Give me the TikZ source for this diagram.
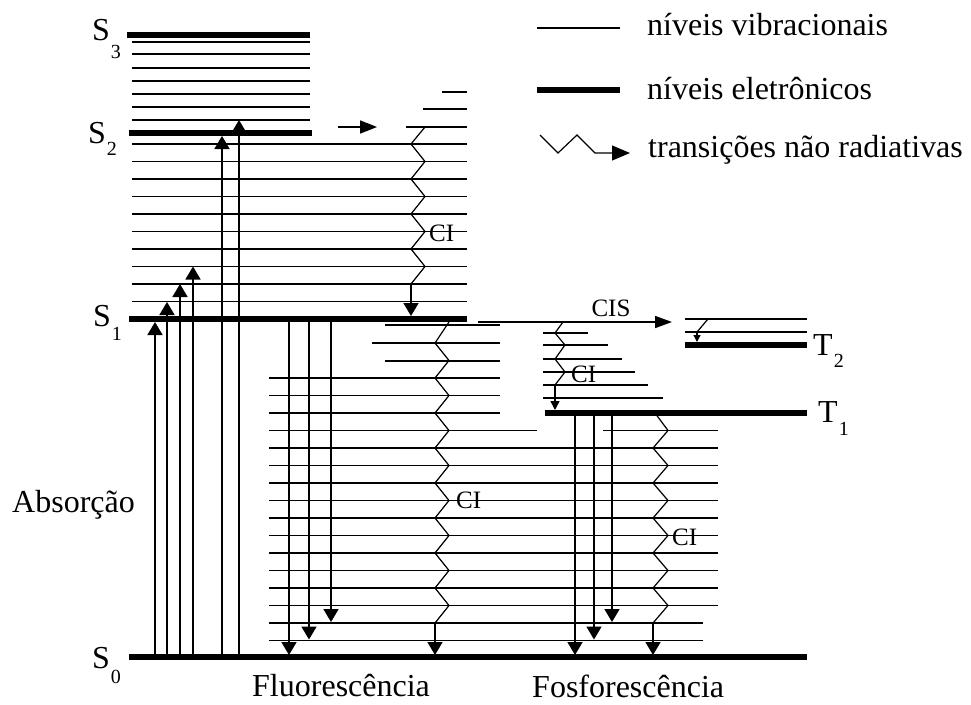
\documentclass[tikz,border=0pt]{standalone}
\usepackage{fontspec}
\setmainfont{Liberation Serif}
\usetikzlibrary{arrows.meta}
\newcommand{\lvl}[3]{#1\kern1pt\raisebox{-#3pt}{\fontsize{20}{20}\selectfont #2}}
\begin{document}
\begin{tikzpicture}[x=1pt,y=-1pt,
  vib/.style={line width=1.8pt},
  ele/.style={line width=6.5pt},
  arr/.style={line width=1.7pt,-{Triangle[width=15pt,length=13pt]}},
  sarr/.style={line width=1.4pt,-{Triangle[width=9pt,length=9pt]}},
  tarr/.style={line width=1.2pt,-{Triangle[width=7pt,length=7pt]}},
  zz/.style={line width=1.2pt,line join=miter},
  lab/.style={font=\fontsize{32}{36}\selectfont, inner sep=0pt},
  cil/.style={font=\fontsize{25}{28}\selectfont, inner sep=0pt},
]
\useasboundingbox (0,0) rectangle (971,704);

% ---------- S3 / S2 manifold ----------
\draw[ele] (127,35) -- (310,35);
\foreach \y in {42,54,68,81,94,107,120} \draw[vib] (132,\y) -- (310,\y);
\draw[ele] (129,133) -- (312,133);
\foreach \k in {0,...,9} \draw[vib] (132,144+\k*17.5) -- (467,144+\k*17.5);
\draw[vib] (442,92) -- (467,92);
\draw[vib] (423,109) -- (467,109);
\draw[vib] (406,127) -- (467,127);
% S1
\draw[ele] (129,319) -- (467,319);

% ---------- S0 manifold ----------
\draw[vib] (385,325) -- (500,325);
\draw[vib] (372,343) -- (500,343);
\draw[vib] (385,361) -- (500,361);
\foreach \k in {0,1,2} \draw[vib] (269,378+\k*17.5) -- (500,378+\k*17.5);
\draw[vib] (269,430.5) -- (537,430.5);
\foreach \k in {4,...,13} \draw[vib] (269,378+\k*17.5) -- (718,378+\k*17.5);
\foreach \k in {14,15} \draw[vib] (269,378+\k*17.5) -- (703,378+\k*17.5);
\draw[ele] (129,657) -- (807,657);

% ---------- triplets ----------
\draw[vib] (543,333) -- (588,333);
\draw[vib] (543,345) -- (608,345);
\draw[vib] (543,359) -- (622,359);
\draw[vib] (543,372) -- (635,372);
\draw[vib] (543,385) -- (648,385);
\draw[vib] (543,398) -- (663,398);
\draw[ele] (545,413) -- (807,413);
\draw[vib] (603,430.5) -- (718,430.5);
\draw[vib] (685,319) -- (807,319);
\draw[vib] (685,332) -- (807,332);
\draw[ele] (685,345) -- (807,345);

% ---------- absorption ----------
\draw[arr] (155,654) -- (155,322);
\draw[arr] (167,654) -- (167,302);
\draw[arr] (180,654) -- (180,284);
\draw[arr] (193,654) -- (193,266.5);
\draw[arr] (222,654) -- (222,136);
\draw[arr] (239,654) -- (239,120);

% ---------- fluorescence ----------
\draw[arr] (289,322) -- (289,655);
\draw[arr] (309,322) -- (309,639.5);
\draw[arr] (331,322) -- (331,622);

% ---------- phosphorescence ----------
\draw[arr] (575,416) -- (575,655);
\draw[arr] (594,416) -- (594,639.5);
\draw[arr] (612,416) -- (612,622);

% ---------- internal conversions ----------
\draw[zz] (425,127) \foreach \k in {1,...,9} { -- ({ifthenelse(mod(\k,2)==1,411,425)},127+\k*17.5-0.5) };
\draw[arr] (411,284) -- (411,316);
\node[cil,anchor=west] (ci1) at (429,233) {CI};

\draw[zz] (449,322) \foreach \k in {0,...,16} { -- ({ifthenelse(mod(\k,2)==0,435,449)},343+\k*17.5) };
\draw[arr] (435,623) -- (435,655);
\node[cil,anchor=west] (ci2) at (456,500) {CI};

\draw[zz] (655,413) \foreach \k in {0,...,11} { -- ({ifthenelse(mod(\k,2)==0,668,653)},430.5+\k*17.5) };
\draw[arr] (653,623) -- (653,655);
\node[cil,anchor=west] (ci3) at (672,537) {CI};

\draw[zz] (563,322) -- (555,333) -- (565,345) -- (555,359) -- (565,372) -- (555,385);
\draw[sarr] (555,385) -- (555,410);
\node[cil,anchor=west] (ci4) at (571,374) {CI};

\draw[zz] (708,319) -- (697,332);
\draw[tarr] (697,332) -- (697,342);

% ---------- CIS and S2 arrow ----------
\draw[line width=1.7pt,-{Triangle[width=12pt,length=17pt]}] (478,322) -- (672,322);
\node[cil] (cis) at (611,308) {CIS};
\draw[line width=1.7pt,-{Triangle[width=13pt,length=17pt]}] (338,127) -- (377,127);

% ---------- labels ----------
\node[lab,anchor=base west] (s3) at (92,40) {\lvl{S}{3}{18}};
\node[lab,anchor=base west] (s2) at (88,143) {\lvl{S}{2}{12}};
\node[lab,anchor=base west] (s1) at (93,326) {\lvl{S}{1}{14}};
\node[lab,anchor=base west] (s0) at (92,668) {\lvl{S}{0}{15}};
\node[lab,anchor=base west] (t2) at (813,355) {\lvl{T}{2}{12}};
\node[lab,anchor=base west] (t1) at (818,422) {\lvl{T}{1}{13}};
\node[lab,anchor=base west] (abs) at (12,512) {Absorção};
\node[lab,anchor=base west] (flu) at (252,696) {Fluorescência};
\node[lab,anchor=base west] (fos) at (532,697) {Fosforescência};

% ---------- legend ----------
\draw[vib] (537,28) -- (620,28);
\draw[ele] (537,90) -- (620,90);
\draw[zz,-{Triangle[width=15pt,length=18pt]}] (540,135) -- (558,153) -- (577,135) -- (595,153) -- (630,153);
\node[lab,anchor=base west] (lg1) at (647,35) {níveis vibracionais};
\node[lab,anchor=base west] (lg2) at (647,99) {níveis eletrônicos};
\node[lab,anchor=base west] (lg3) at (648,157) {transições não radiativas};
\end{tikzpicture}
\end{document}
